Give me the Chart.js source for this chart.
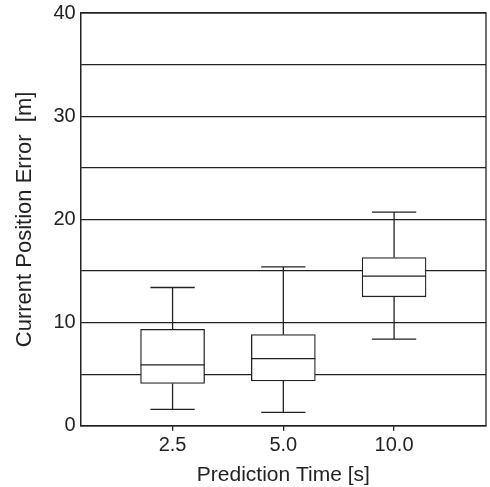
<!DOCTYPE html>
<html>
<head>
<meta charset="utf-8">
<script src="https://cdn.jsdelivr.net/npm/chart.js@4"></script>
<style>
  html, body { margin: 0; padding: 0; background: #fff; overflow: hidden; }
  #wrap { width: 490px; height: 491px; margin-top: -4px; }
</style>
</head>
<body>
<div id="wrap"><canvas id="boxChart"></canvas></div>
<script>
// Box plot values (prediction time vs current position error)
const categories = ['2.5', '5.0', '10.0'];
const whiskerLow = [1.6, 1.3, 8.4];
const q1 = [4.1, 4.35, 12.5];
const median = [5.9, 6.5, 14.5];
const q3 = [9.35, 8.85, 16.3];
const whiskerHigh = [13.4, 15.4, 20.7];
const yLabelEvery = 10;

const ink = '#222';
const FONT = '"Liberation Sans", Arial, Helvetica, sans-serif';
const capWidth = 0.4; // in x units

// Whiskers, caps, medians and the plot frame, drawn through the chart scales.
const boxExtras = {
  id: 'boxExtras',
  afterDatasetsDraw(chart) {
    const { ctx, chartArea, scales: { x, y } } = chart;
    ctx.save();
    ctx.strokeStyle = ink;
    ctx.lineWidth = 1.3;
    const boxMeta = chart.getDatasetMeta(0);
    categories.forEach((c, i) => {
      const cx = x.getPixelForValue(i + 1);
      const capHalf = x.getPixelForValue(i + 1 + capWidth / 2) - cx;
      const bar = boxMeta.data[i];
      const boxHalf = bar.width / 2;
      ctx.beginPath();
      // upper whisker
      ctx.moveTo(cx, y.getPixelForValue(q3[i]));
      ctx.lineTo(cx, y.getPixelForValue(whiskerHigh[i]));
      ctx.moveTo(cx - capHalf, y.getPixelForValue(whiskerHigh[i]));
      ctx.lineTo(cx + capHalf, y.getPixelForValue(whiskerHigh[i]));
      // lower whisker
      ctx.moveTo(cx, y.getPixelForValue(q1[i]));
      ctx.lineTo(cx, y.getPixelForValue(whiskerLow[i]));
      ctx.moveTo(cx - capHalf, y.getPixelForValue(whiskerLow[i]));
      ctx.lineTo(cx + capHalf, y.getPixelForValue(whiskerLow[i]));
      // median
      ctx.moveTo(cx - boxHalf, y.getPixelForValue(median[i]));
      ctx.lineTo(cx + boxHalf, y.getPixelForValue(median[i]));
      ctx.stroke();
    });
    ctx.strokeRect(chartArea.left, chartArea.top, chartArea.right - chartArea.left, chartArea.bottom - chartArea.top);
    ctx.restore();
  }
};

const ctx = document.getElementById('boxChart').getContext('2d');
const boxChart = new Chart(ctx, {
  type: 'bar',
  data: {
    datasets: [{
      data: categories.map((c, i) => ({ x: i + 1, y: [q1[i], q3[i]] })),
      backgroundColor: '#fff',
      borderColor: ink,
      borderWidth: 1.3,
      borderSkipped: false,
      barThickness: 64,
      grouped: false
    }]
  },
  options: {
    responsive: true,
    maintainAspectRatio: false,
    animation: false,
    layout: { padding: { top: 0, right: 4, left: 8, bottom: -1 } },
    plugins: {
      legend: { display: false },
      tooltip: { enabled: false }
    },
    scales: {
      x: {
        type: 'linear',
        offset: false,
        min: 0.17,
        max: 3.83,
        afterBuildTicks: axis => { axis.ticks = categories.map((c, i) => ({ value: i + 1 })); },
        ticks: {
          callback: v => categories[v - 1],
          color: ink,
          font: { family: FONT, size: 20 },
          padding: 3,
          maxRotation: 0
        },
        grid: { drawOnChartArea: false, offset: false, tickLength: 5, color: ink, lineWidth: 1.3 },
        border: { display: true, color: ink, width: 1.3 },
        title: {
          display: true,
          text: 'Prediction Time [s]',
          color: ink,
          font: { family: FONT, size: 21 },
          padding: { top: 2, bottom: 0 }
        }
      },
      y: {
        min: 0,
        max: 40,
        ticks: {
          stepSize: 5,
          callback: v => (v % yLabelEvery === 0 ? v : ''),
          color: ink,
          font: { family: FONT, size: 20 },
          padding: 5
        },
        grid: { color: ink, lineWidth: 1.2, drawTicks: false },
        border: { display: true, color: ink, width: 1.3 },
        title: {
          display: true,
          text: 'Current Position Error  [m]',
          color: ink,
          font: { family: FONT, size: 22 },
          padding: { top: 4, bottom: 10 }
        }
      }
    }
  },
  plugins: [boxExtras]
});
</script>
</body>
</html>
